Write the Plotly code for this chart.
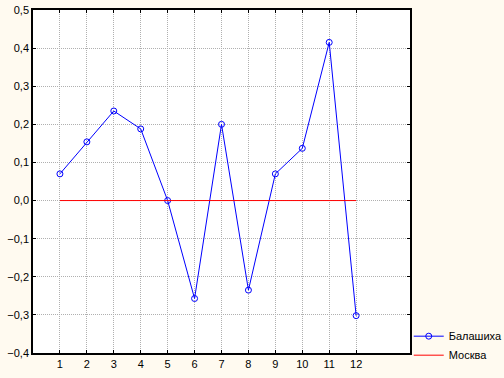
import plotly.graph_objects as go

months = [1, 2, 3, 4, 5, 6, 7, 8, 9, 10, 11, 12]
balashikha = [0.070, 0.154, 0.235, 0.188, 0.0, -0.257, 0.200, -0.235, 0.070, 0.137, 0.415, -0.302]
moskva = [0, 0, 0, 0, 0, 0, 0, 0, 0, 0, 0, 0]
y_ticks = [-0.4, -0.3, -0.2, -0.1, 0.0, 0.1, 0.2, 0.3, 0.4, 0.5]

fig = go.Figure()
fig.add_trace(go.Scatter(
    x=months, y=balashikha, name="Балашиха", mode="lines+markers",
    line=dict(color="#0000FF", width=1),
    marker=dict(symbol="circle-open", size=6, color="#0000FF", line=dict(width=1)),
))
fig.add_trace(go.Scatter(
    x=months, y=moskva, name="Москва", mode="lines",
    line=dict(color="#FF0000", width=1),
))

axis_common = dict(
    showline=True, linecolor="black", linewidth=1.5, mirror="ticks",
    ticks="inside", ticklen=3, tickcolor="black",
    showgrid=True, gridcolor="#B0B0B0", griddash="1px,1px", gridwidth=1,
    zeroline=False,
    tickfont=dict(family="Liberation Sans, Arial", size=11, color="black"),
)

fig.update_layout(
    width=504, height=378,
    margin=dict(l=33, r=94, t=10, b=25, autoexpand=False),
    paper_bgcolor="#FFFAF0",
    plot_bgcolor="white",
    separators=", ",
    font=dict(family="Liberation Sans, Arial", size=11, color="black"),
    xaxis=dict(range=[0, 14], tickvals=months, **axis_common),
    yaxis=dict(range=[-0.4, 0.5], tickvals=y_ticks, tickformat=".1f", **axis_common),
    legend=dict(xref="container", yref="container", x=0.811, y=0.022,
                xanchor="left", yanchor="bottom",
                bgcolor="rgba(0,0,0,0)", font=dict(size=11), tracegroupgap=0,
                itemwidth=30, borderwidth=0),
    showlegend=True,
)

fig.write_html("out.html")
